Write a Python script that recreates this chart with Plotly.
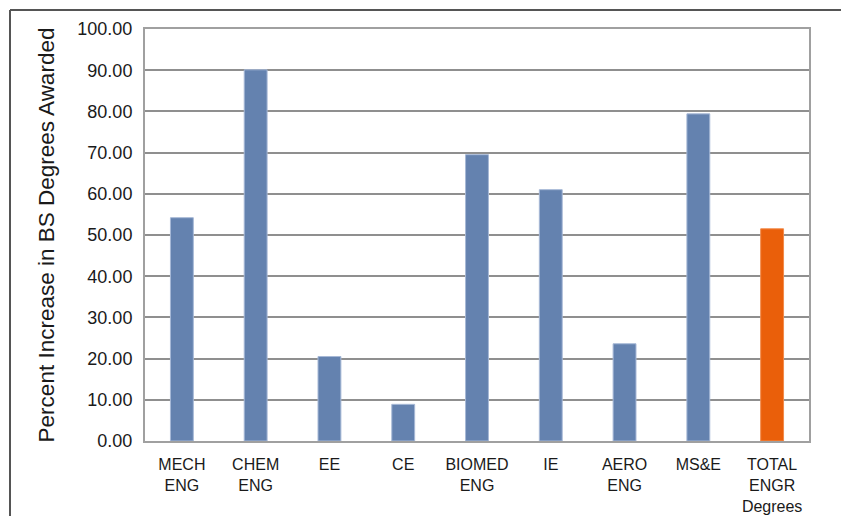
import plotly.graph_objects as go

categories = ["MECH<br>ENG", "CHEM<br>ENG", "EE", "CE", "BIOMED<br>ENG", "IE",
              "AERO<br>ENG", "MS&E", "TOTAL<br>ENGR<br>Degrees"]
values = [54.2, 90.1, 20.5, 8.9, 69.5, 61.0, 23.6, 79.4, 51.5]
bar_colors = ["#6482AF"] * 8 + ["#EA5F0A"]
outline_colors = ["#A6B8D6"] * 8 + ["#F28A4A"]
y_ticks = [0, 10, 20, 30, 40, 50, 60, 70, 80, 90, 100]

fig = go.Figure()
fig.add_trace(go.Bar(
    x=categories, y=values,
    marker=dict(color=bar_colors, line=dict(color=outline_colors, width=1)),
    width=0.31,
))

font_family = "Liberation Sans, Arial, sans-serif"
fig.update_layout(
    width=841, height=508,
    margin=dict(l=137, r=40, t=21, b=75, autoexpand=False),
    paper_bgcolor="white", plot_bgcolor="white",
    showlegend=False,
    font=dict(family=font_family, size=16, color="#1a1a1a"),
    xaxis=dict(
        showgrid=False, showline=True, linecolor="#a0a0a0", linewidth=2,
        mirror=True, ticks="", ticklabelstandoff=8, automargin=False,
        tickfont=dict(size=16, family=font_family),
    ),
    yaxis=dict(
        range=[0, 100], tickvals=y_ticks, tickformat=".2f",
        showgrid=True, gridcolor="#8f8f8f", gridwidth=2,
        showline=True, linecolor="#a0a0a0", linewidth=2, mirror=True,
        zeroline=False, ticks="", ticklabelstandoff=7, automargin=False,
        tickfont=dict(size=18, family=font_family),
        title=dict(text="Percent Increase in BS Degrees Awarded",
                   font=dict(size=22.5, family=font_family), standoff=16),
    ),
    shapes=[
        dict(type="line", xref="paper", yref="paper",
             x0=(2 - 137) / 664, x1=(841 - 137) / 664 + 0.1,
             y0=1 + (21 - 2) / 412, y1=1 + (21 - 2) / 412,
             line=dict(color="#555555", width=2)),
        dict(type="line", xref="paper", yref="paper",
             x0=(2 - 137) / 664, x1=(2 - 137) / 664,
             y0=1 + (21 - 2) / 412, y1=-0.3,
             line=dict(color="#555555", width=2)),
    ],
)

fig.write_html("out.html")
